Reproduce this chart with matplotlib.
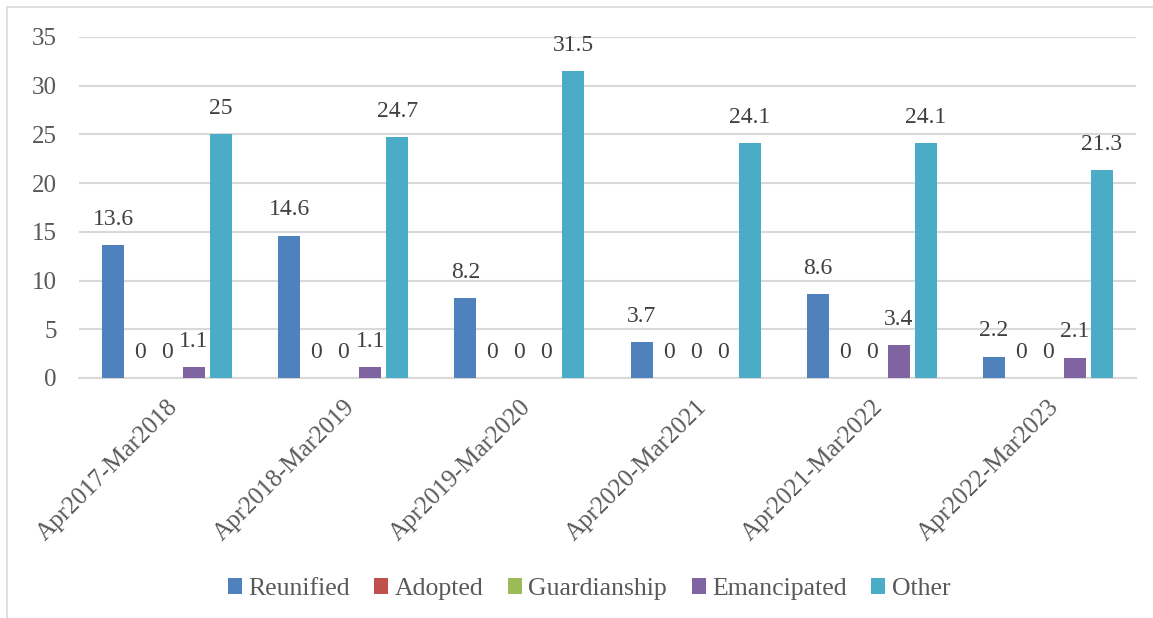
import numpy as np
import matplotlib
matplotlib.use("Agg")
import matplotlib.pyplot as plt
from matplotlib.patches import Rectangle

periods = ["Apr2017-Mar2018", "Apr2018-Mar2019", "Apr2019-Mar2020",
           "Apr2020-Mar2021", "Apr2021-Mar2022", "Apr2022-Mar2023"]
reunified = [13.6, 14.6, 8.2, 3.7, 8.6, 2.2]
adopted = [0, 0, 0, 0, 0, 0]
guardianship = [0, 0, 0, 0, 0, 0]
emancipated = [1.1, 1.1, 0, 0, 3.4, 2.1]
other = [25, 24.7, 31.5, 24.1, 24.1, 21.3]

series = [
    ("Reunified", reunified, "#4F81BD"),
    ("Adopted", adopted, "#C0504D"),
    ("Guardianship", guardianship, "#9BBB59"),
    ("Emancipated", emancipated, "#8064A2"),
    ("Other", other, "#4BACC6"),
]

plt.rcParams["font.family"] = ["Liberation Serif", "DejaVu Serif"]
TEXT = "#595959"

fig = plt.figure(figsize=(11.53, 6.18), dpi=100)
# chart frame
fig.patches.append(Rectangle((7 / 1153, -0.1), 1.2, 1.1 - 7 / 618,
                             transform=fig.transFigure, fill=False,
                             edgecolor="#D9D9D9", lw=1.2))
ax = fig.add_axes([79 / 1153, 1 - 378 / 618, (1136 - 79) / 1153, (378 - 37) / 618])

x = np.arange(len(periods))
step = 27 / 176
width = 22 / 176
for j, (name, vals, color) in enumerate(series):
    bars = ax.bar(x + (j - 2) * step, vals, width, color=color, label=name, zorder=3)
    ax.bar_label(bars, labels=[f"{v:g}" for v in vals], padding=11,
                 fontsize=17, color="#404040")

ax.set_xlim(-0.5, len(periods) - 0.5)
ax.set_ylim(0, 35)
ax.set_yticks(range(0, 36, 5))
ax.yaxis.grid(True, color="#D9D9D9", lw=1.5, zorder=0)
ax.set_axisbelow(True)
for s in ["top", "right", "left"]:
    ax.spines[s].set_visible(False)
ax.spines["bottom"].set_color("#D9D9D9")
ax.spines["bottom"].set_linewidth(1.5)
ax.tick_params(length=0, labelsize=18, colors=TEXT)
ax.tick_params(axis="y", pad=16)
ax.set_xticks(x)
ax.set_xticklabels(periods, rotation=45, ha="right", rotation_mode="anchor")
ax.tick_params(axis="x", pad=13, labelsize=18)

ax.legend(loc="center", bbox_to_anchor=(0.4825, (1 - 589 / 618 - (1 - 378 / 618)) / ((378 - 37) / 618)),
          ncol=5, frameon=False, fontsize=18.5, labelcolor=TEXT,
          handlelength=0.55, handleheight=0.55, handletextpad=0.25, columnspacing=0.95)

fig.savefig("out.png", dpi=100)
